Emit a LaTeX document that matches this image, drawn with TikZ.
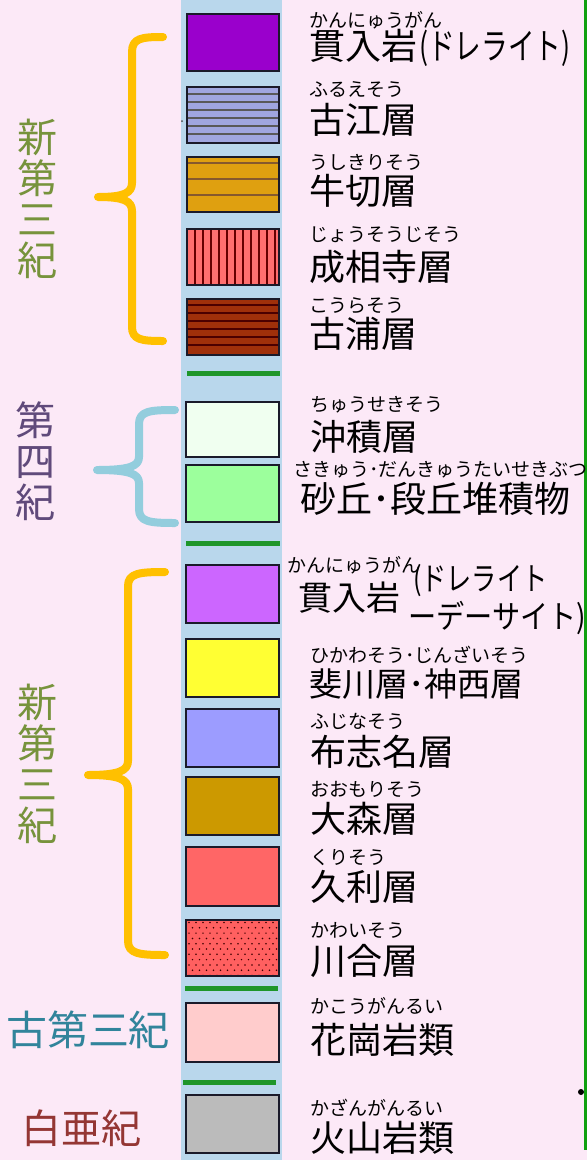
\documentclass[tikz,border=0pt]{standalone}
\usepackage{fontspec}
\usepackage{graphicx}
\newfontfamily\jp{Noto Sans CJK JP}
\definecolor{bgpink}{HTML}{FCE9F7}
\definecolor{strip}{HTML}{B9D7EC}
\definecolor{barg}{HTML}{1E962A}
\definecolor{edgeg}{HTML}{10A010}
\definecolor{boxline}{HTML}{1A1A2A}
\definecolor{braceo}{HTML}{FFC000}
\definecolor{braceb}{HTML}{93CDDD}
\definecolor{olivet}{HTML}{77933C}
\definecolor{purplet}{HTML}{604A7B}
\definecolor{tealt}{HTML}{31849B}
\definecolor{redt}{HTML}{943634}
\definecolor{c1}{HTML}{9A00CC}
\definecolor{c2}{HTML}{A0A6E0}
\definecolor{c3}{HTML}{DFA010}
\definecolor{c4}{HTML}{FF6F6F}
\definecolor{c5}{HTML}{A0300A}
\definecolor{c6}{HTML}{F0FFF0}
\definecolor{c7}{HTML}{9CFF9C}
\definecolor{c8}{HTML}{CC66FF}
\definecolor{c9}{HTML}{FFFF33}
\definecolor{c10}{HTML}{9C9CFF}
\definecolor{c11}{HTML}{CC9900}
\definecolor{c12}{HTML}{FF6666}
\definecolor{c13}{HTML}{FF6060}
\definecolor{c14}{HTML}{FFCCCC}
\definecolor{c15}{HTML}{BBBBBB}
\begin{document}
\begin{tikzpicture}[x=1pt,y=-1pt,
  furi/.style={anchor=west,inner sep=0pt,font=\jp\fontsize{19}{19}\selectfont},
  lbl/.style={anchor=west,inner sep=0pt,font=\jp\fontsize{36}{36}\selectfont},
  era/.style={inner sep=0pt,align=center,font=\jp\fontsize{40}{41}\selectfont},
  swbox/.style={draw=boxline,line width=1.5pt},
  gbar/.style={draw=barg,line width=5pt},
  bracepath/.style={line width=8pt,line cap=round,line join=round}]
\useasboundingbox (0,0) rectangle (587,1160);
\fill[bgpink] (0,0) rectangle (587,1160);
\fill[strip] (181,0) rectangle (282,1160);
\fill[edgeg] (584,0) rectangle (587,1150);
\fill[black] (581,1092) circle (3);
\fill[black!70] (182,121) circle (1);

% swatches
\path[swbox,fill=c1] (187,14) rectangle (279,71);
\path[fill=c2] (187,87) rectangle (279,143);
\foreach \k in {0,...,5} \draw[line width=1.2pt,draw=black!65] (187,94+\k*8) -- (279,94+\k*8);
\path[swbox] (187,87) rectangle (279,143);
\path[fill=c3] (187,157) rectangle (279,212);
\foreach \k in {0,1,2} \draw[line width=1.2pt,draw=brown!70!black] (187,163+\k*16) -- (279,163+\k*16);
\path[swbox] (187,157) rectangle (279,212);
\path[fill=c4] (187,229) rectangle (279,285);
\foreach \k in {0,...,10} \draw[line width=1.1pt,draw=red!40!black] (195+\k*8,229) -- (195+\k*8,285);
\path[swbox] (187,229) rectangle (279,285);
\path[fill=c5] (187,299) rectangle (279,355);
\foreach \k in {0,...,5} \draw[line width=1.1pt,draw=red!30!black] (187,305+\k*8) -- (279,305+\k*8);
\path[swbox] (187,299) rectangle (279,355);
\draw[gbar] (187,373) -- (280,373);
\path[swbox,fill=c6] (186,402) rectangle (279,457);
\path[swbox,fill=c7] (186,465) rectangle (279,522);
\draw[gbar] (186,543) -- (280,543);
\path[swbox,fill=c8] (186,565) rectangle (279,623);
\path[swbox,fill=c9] (186,639) rectangle (279,697);
\path[swbox,fill=c10] (186,709) rectangle (279,767);
\path[swbox,fill=c11] (186,777) rectangle (279,835);
\path[swbox,fill=c12] (186,847) rectangle (279,906);
\path[fill=c13] (186,920) rectangle (279,976);
\begin{scope}
\clip (186,920) rectangle (279,976);
\foreach \r in {0,...,10} {
  \foreach \c in {0,...,13} {
    \fill[red!25!black] ({189+\c*7+mod(\r,2)*3.5},{922.5+\r*5.3}) circle (0.85);
  }
}
\end{scope}
\path[swbox] (186,920) rectangle (279,976);
\draw[gbar] (185,988) -- (278,988);
\path[swbox,fill=c14] (186,1003) rectangle (279,1062);
\draw[gbar] (183,1082) -- (276,1082);
\path[swbox,fill=c15] (186,1095) rectangle (279,1153);

% braces
\draw[bracepath,braceo] (163,37) .. controls (142,37) and (132,38) .. (132,52) -- (132,183)
  .. controls (132,193) and (124,197) .. (98,197)
  .. controls (124,197) and (132,201) .. (132,211) -- (132,327)
  .. controls (132,340) and (142,341) .. (163,341);
\draw[bracepath,braceb] (175,410) .. controls (150,410) and (139,411) .. (139,424) -- (139,457)
  .. controls (139,466) and (130,470) .. (97,470)
  .. controls (130,470) and (139,474) .. (139,483) -- (139,509)
  .. controls (139,522) and (150,523) .. (175,523);
\draw[bracepath,braceo] (165,572) .. controls (140,572) and (128,573) .. (128,586) -- (128,761)
  .. controls (128,771) and (118,775) .. (88,775)
  .. controls (118,775) and (128,779) .. (128,789) -- (128,941)
  .. controls (128,954) and (140,955) .. (165,955);

% era labels
\node[era,text=olivet] (e1) at (37,199) {新\\第\\三\\紀};
\node[era,text=purplet] (e2) at (36,461) {第\\四\\紀};
\node[era,text=olivet] (e3) at (37,764) {新\\第\\三\\紀};
\node[era,text=tealt,font=\jp\fontsize{41}{41}\selectfont] (e4) at (88,1030) {古第三紀};
\node[era,text=redt] (e5) at (81,1128) {白亜紀};

% labels
\node[furi] (f1) at (309,20) {かんにゅうがん};
\node[lbl] (l1) at (309,48) {貫入岩\hspace{2pt}\scalebox{0.74}[1]{(ドレライト)}};
\node[furi] (f2) at (309,90) {ふるえそう};
\node[lbl] (l2) at (309,120) {古江層};
\node[furi] (f3) at (309,162) {うしきりそう};
\node[lbl] (l3) at (309,191) {牛切層};
\node[furi] (f4) at (309,235) {じょうそうじそう};
\node[lbl] (l4) at (309,267) {成相寺層};
\node[furi] (f5) at (309,306) {こうらそう};
\node[lbl] (l5) at (309,334) {古浦層};
\node[furi] (f6) at (310,405) {ちゅうせきそう};
\node[lbl] (l6) at (310,437) {沖積層};
\node[furi] (f7) at (293,470) {さきゅう･だんきゅうたいせきぶつ};
\node[lbl] (l7) at (300,499) {砂丘･段丘堆積物};
\node[furi] (f8) at (287,565) {かんにゅうがん};
\node[lbl,font=\jp\fontsize{34}{34}\selectfont] (l8) at (298,598) {貫入岩};
\node[lbl,font=\jp\fontsize{32}{32}\selectfont] (l8b) at (413,581) {\scalebox{0.785}[1]{(ドレライト}};
\node[lbl,font=\jp\fontsize{32}{32}\selectfont] (l8c) at (408,618) {\scalebox{0.88}[1]{ーデーサイト)}};
\node[furi] (f9) at (310,655) {ひかわそう･じんざいそう};
\node[lbl,font=\jp\fontsize{33}{33}\selectfont] (l9) at (309,684) {斐川層･神西層};
\node[furi] (f10) at (310,721) {ふじなそう};
\node[lbl] (l10) at (310,752) {布志名層};
\node[furi] (f11) at (310,789) {おおもりそう};
\node[lbl] (l11) at (310,819) {大森層};
\node[furi] (f12) at (310,857) {くりそう};
\node[lbl] (l12) at (310,887) {久利層};
\node[furi] (f13) at (310,930) {かわいそう};
\node[lbl] (l13) at (310,961) {川合層};
\node[furi] (f14) at (310,1006) {かこうがんるい};
\node[lbl] (l14) at (310,1040) {花崗岩類};
\node[furi] (f15) at (310,1108) {かざんがんるい};
\node[lbl] (l15) at (310,1138) {火山岩類};
\end{tikzpicture}
\end{document}
